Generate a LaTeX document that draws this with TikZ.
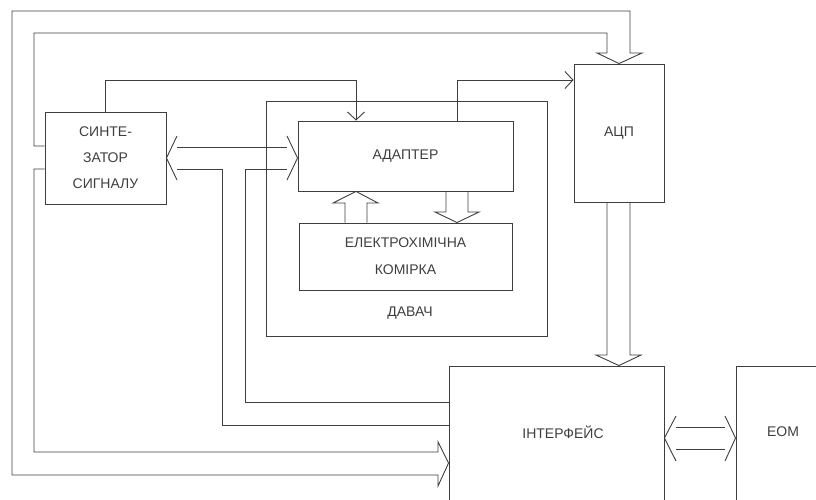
\documentclass[tikz,border=0pt]{standalone}
\usepackage{fontspec}
\setmainfont{Liberation Sans}
\usetikzlibrary{arrows.meta}
\definecolor{ink}{RGB}{62,62,62}

\begin{document}
\begin{tikzpicture}[x=1pt,y=-1pt,line width=0.9pt,color=ink,
  blok/.style={draw,rectangle,inner sep=0pt},
  lbl/.style={font=\fontsize{14}{26}\selectfont,align=center},
  thin/.style={-{Straight Barb[length=8pt,width=17pt]}}]
  \useasboundingbox (0,0) rectangle (816,499);
  \clip (0,0) rectangle (816,499);
  % blocks
  \node[blok,lbl,minimum width=121pt,minimum height=92pt] (synth) at (105.5,158) {СИНТЕ-\\ЗАТОР\\СИГНАЛУ};
  \node[blok,minimum width=281pt,minimum height=235pt] (davach) at (406.5,218.5) {};
  \node[lbl] (davachtxt) at (410,313) {ДАВАЧ};
  \node[blok,lbl,minimum width=215pt,minimum height=70pt] (adapter) at (405.5,156) {АДАПТЕР};
  \node[blok,lbl,font=\fontsize{14}{27}\selectfont,minimum width=213pt,minimum height=67pt] (cell) at (405.5,256.5) {ЕЛЕКТРОХІМІЧНА\\КОМІРКА};
  \node[blok,lbl,minimum width=90pt,minimum height=138pt] (adc) at (619,133) {АЦП};
  \node[blok,minimum width=215pt,minimum height=154pt] (iface) at (556.5,443) {};
  \node[lbl] (ifacetxt) at (563,432) {ІНТЕРФЕЙС};
  \node[blok,minimum width=104pt,minimum height=154pt] (eom) at (788,443) {};
  \node[lbl] (eomtxt) at (783,432) {ЕОМ};
  % thin links
  \draw[thin] (synth.north) |- (356,80) -- (adapter.north -| 356,0);
  \draw[thin] (adapter.north -| 457,0) |- (adc.west |- 0,80);
  % synth <-> adapter
  \draw (177,147) -- (287,147);
  \draw (177,136) -- (synth.east) -- (177,180);
  \draw (287,136) -- (adapter.west |- synth.east) -- (287,180);
  \draw (177,169) -| (222,425) -- (iface.west |- 0,425);
  \draw (287,169) -| (245,402) -- (iface.west |- 0,402);
  % outer bus: synth -> adc and interface
  \draw (synth.west |- 0,146) -- (34,146) |- (607,33) -- (607,53) -- (597,53) -- (adc.north)
    -- (642,53) -- (630,53) |- (12,11) |- (438,475) -- (438,486) -- (iface.west |- 0,463)
    -- (438,442) -- (438,452) -| (34,169) -- (synth.west |- 0,169);
  % adc -> interface
  \draw (adc.south -| 607,0) -- (607,355) -- (596,355) -- (adc.south |- iface.north)
    -- (641,355) -- (630,355) -- (adc.south -| 630,0);
  % adapter <-> cell
  \draw (adapter.south -| 446,0) -- (446,212) -- (435,212) -- (cell.north -| 457,0)
    -- (479,212) -- (468,212) -- (adapter.south -| 468,0);
  \draw (cell.north -| 345,0) -- (345,203) -- (333,203) -- (adapter.south -| 356,0)
    -- (378,203) -- (367,203) -- (cell.north -| 367,0);
  % interface <-> eom
  \draw (676,427) -- (725,427);
  \draw (676,449) -- (725,449);
  \draw (676,416) -- (iface.east |- 0,438) -- (676,461);
  \draw (725,416) -- (eom.west |- 0,438) -- (725,461);
\end{tikzpicture}
\end{document}
